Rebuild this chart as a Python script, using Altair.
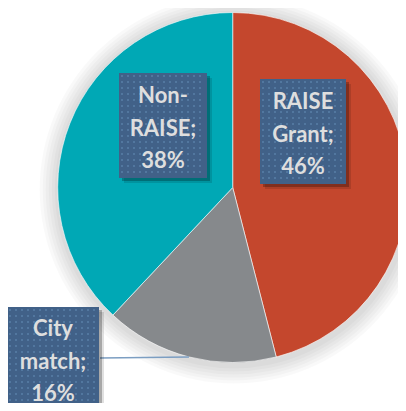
import altair as alt
import pandas as pd

# ---- data ----
categories = ["RAISE Grant", "City match", "Non-RAISE"]
shares = [46, 16, 38]
slice_colors = ["#C4472D", "#86898C", "#00A8B5"]

# ---- layout (pixels inside the chart) ----
W, H = 390, 395
CX, CY, R = 224.7, 179.5, 175
BOX = "#416188"
DOT = "#5F87B0"
TXT = "#DEDEDE"

def wrap(cat, val):
    if "-" in cat:
        a, b = cat.split("-", 1)
        lines = [a + "-", b + ";"]
    else:
        a, b = cat.split(" ", 1)
        lines = [a, b + ";"]
    return "\n".join(lines + [f"{val}%"])

pie_df = pd.DataFrame({
    "category": categories,
    "share": shares,
    "order": list(range(len(categories))),
    "label": [wrap(c, v) for c, v in zip(categories, shares)],
})

layers = []

# soft shadow around the pie
for r in [179, 182, 185, 188, 191, 194]:
    layers.append(
        alt.Chart(alt.Data(values=[{"k": 1}]))
        .mark_arc(theta=0, theta2=6.2832, outerRadius=r, color="#000000", opacity=0.024)
        .encode(x=alt.value(CX + 1), y=alt.value(CY + 2))
    )

# pie
layers.append(
    alt.Chart(pie_df)
    .mark_arc(outerRadius=R, stroke="#ffffff", strokeWidth=0.6)
    .encode(
        theta=alt.Theta("share:Q", stack=True),
        color=alt.Color("category:N", scale=alt.Scale(domain=categories, range=slice_colors), legend=None),
        order=alt.Order("order:Q"),
        x=alt.value(CX),
        y=alt.value(CY),
    )
)

# leader line for City match
layers.append(
    alt.Chart(pie_df)
    .transform_filter(alt.datum.category == "City match")
    .mark_rule(color="#7C9EC2", strokeWidth=1.5)
    .encode(x=alt.value(92), x2=alt.value(181), y=alt.value(350), y2=alt.value(349))
)

# label boxes: category -> (x0, x1, y0, y1, text x, first baseline)
boxes = {
    "Non-RAISE": (111, 199, 65, 170, 155, 95),
    "RAISE Grant": (252, 338, 71, 176, 295, 101),
    "City match": (-1, 91, 299, 412, 45, 328),
}

for cat, (x0, x1, y0, y1, tx, ty) in boxes.items():
    base = alt.Chart(pie_df).transform_filter(alt.datum.category == cat)
    for off, op in [(5, 0.12), (3, 0.25)]:
        layers.append(
            base.mark_rect(color="#000000", opacity=op)
            .encode(x=alt.value(x0 + off), x2=alt.value(x1 + off), y=alt.value(y0 + off), y2=alt.value(y1 + off))
        )
    layers.append(
        base.mark_rect(color=BOX)
        .encode(x=alt.value(x0), x2=alt.value(x1), y=alt.value(y0), y2=alt.value(y1))
    )
    # dotted texture of the box fill
    dots = [{"px": x, "py": y}
            for x in range(x0 + 3, x1 - 1, 6)
            for y in range(y0 + 3, y1 - 1, 6)]
    layers.append(
        alt.Chart(alt.Data(values=dots))
        .mark_square(size=3, color=DOT, opacity=0.9)
        .encode(x=alt.X("px:Q", scale=None), y=alt.Y("py:Q", scale=None))
    )
    layers.append(
        base.mark_text(font="Lato", fontWeight="bold", fontSize=22, color=TXT,
                       align="center", baseline="alphabetic", lineBreak="\n", lineHeight=32.5)
        .encode(x=alt.value(tx), y=alt.value(ty), text="label:N")
    )

chart = (
    alt.layer(*layers)
    .properties(width=W, height=H, padding=0, autosize="none", background="#ffffff")
    .configure_view(stroke=None)
)

chart.save("out.html", embed_options={"renderer": "svg", "actions": False})
